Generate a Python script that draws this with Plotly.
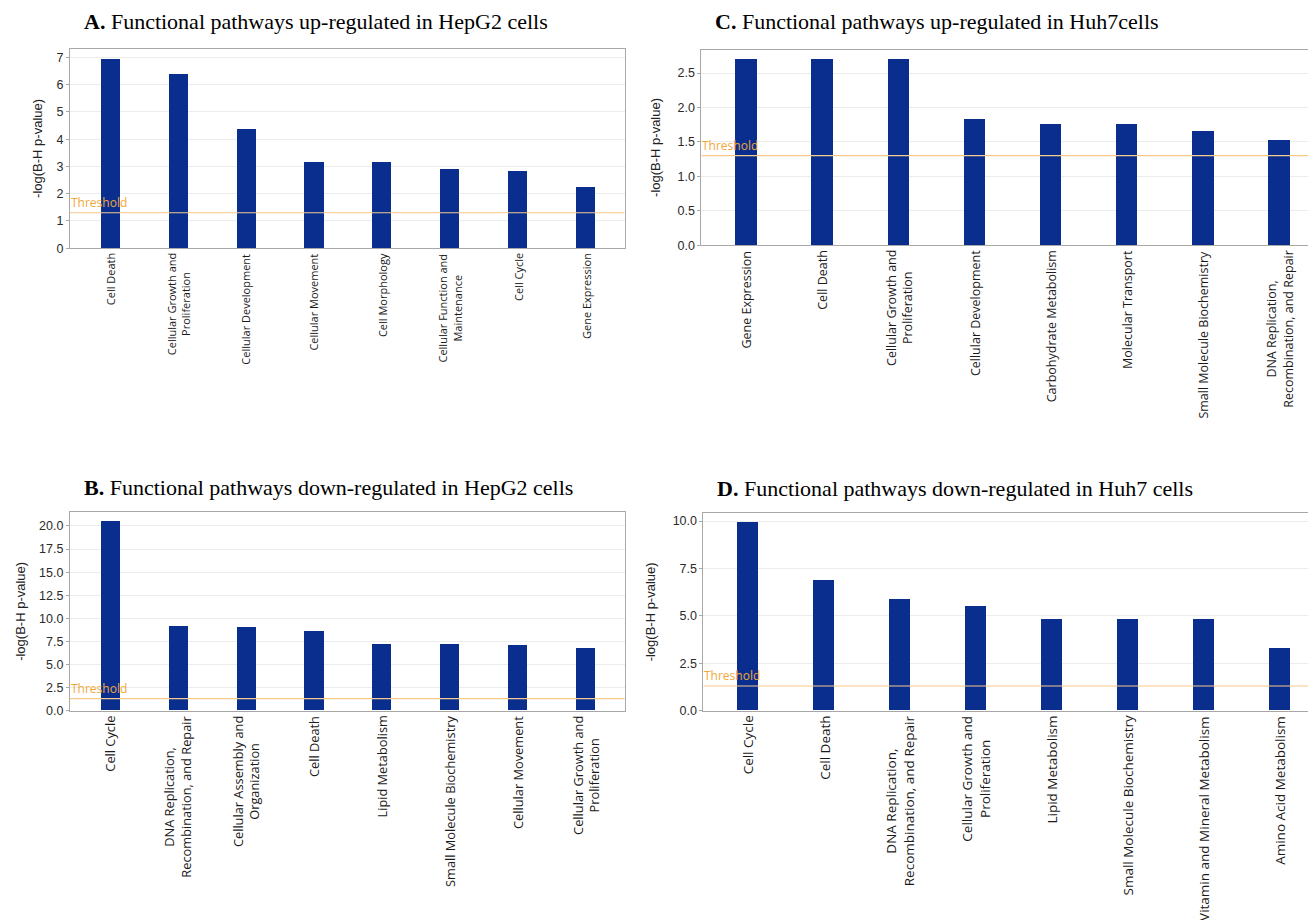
import plotly.graph_objects as go

W, H = 1316, 920

# ---------------- data ----------------
a_cats = ["Cell Death", "Cellular Growth and<br>Proliferation", "Cellular Development",
          "Cellular Movement", "Cell Morphology", "Cellular Function and<br>Maintenance",
          "Cell Cycle", "Gene Expression"]
a_vals = [6.96, 6.39, 4.39, 3.18, 3.17, 2.92, 2.85, 2.24]

c_cats = ["Gene Expression", "Cell Death", "Cellular Growth and<br>Proliferation",
          "Cellular Development", "Carbohydrate Metabolism", "Molecular Transport",
          "Small Molecule Biochemistry", "DNA Replication,<br>Recombination, and Repair"]
c_vals = [2.71, 2.71, 2.71, 1.84, 1.76, 1.76, 1.67, 1.53]

b_cats = ["Cell Cycle", "DNA Replication,<br>Recombination, and Repair",
          "Cellular Assembly and<br>Organization", "Cell Death", "Lipid Metabolism",
          "Small Molecule Biochemistry", "Cellular Movement",
          "Cellular Growth and<br>Proliferation"]
b_vals = [20.5, 9.17, 9.06, 8.63, 7.16, 7.16, 7.09, 6.73]

d_cats = ["Cell Cycle", "Cell Death", "DNA Replication,<br>Recombination, and Repair",
          "Cellular Growth and<br>Proliferation", "Lipid Metabolism",
          "Small Molecule Biochemistry", "Vitamin and Mineral Metabolism",
          "Amino Acid Metabolism"]
d_vals = [9.95, 6.90, 5.86, 5.53, 4.82, 4.82, 4.82, 3.32]

threshold = 1.3

titles = ["<b>A.</b> Functional pathways up-regulated in HepG2 cells",
          "<b>C.</b> Functional pathways up-regulated in Huh7cells",
          "<b>B.</b> Functional pathways down-regulated in HepG2 cells",
          "<b>D.</b> Functional pathways down-regulated in Huh7 cells"]
y_title = "-log(B-H p-value)"

# ---------------- layout (pixel boxes) ----------------
# cats, vals, box(l, r, t, b), yrange, dtick, tickformat, title pos, label size, standoff
panels = [
    (a_cats, a_vals, (62, 617, 41, 242), [0, 7.32], 1, "d", (74, 14), 11, 10),
    (c_cats, c_vals, (694, 1316, 42, 239), [0, 2.84], 0.5, ".1f", (706, 14), 12.5, 14),
    (b_cats, b_vals, (62, 617, 508, 708), [0, 21.5], 2.5, ".1f", (74, 483), 12.8, 10),
    (d_cats, d_vals, (696, 1316, 509, 708), [0, 10.42], 2.5, ".1f", (708, 484), 13.5, 14),
]

BAR = "#0a2e8e"
GRID = "#ececec"
FRAME = "#a8a8a8"
THR_LINE = "#f6c98c"
THR_TEXT = "#f2a83a"
TICKFONT = dict(family="Liberation Sans, Arial, sans-serif", size=12.5, color="#2a2a2a")

fig = go.Figure()
layout = dict(width=W, height=H, margin=dict(l=0, r=0, t=0, b=0),
              paper_bgcolor="white", plot_bgcolor="white", showlegend=False,
              bargap=0)
annotations = []
shapes = []

for i, (cats, vals, (l, r, t, b), yr, dt, tf, (tx, ty), lsize, stand) in enumerate(panels):
    n = i + 1
    xa = "x" if n == 1 else f"x{n}"
    ya = "y" if n == 1 else f"y{n}"
    fig.add_trace(go.Bar(x=cats, y=vals, xaxis=xa, yaxis=ya, width=0.28,
                         marker=dict(color=BAR, line=dict(width=0)),
                         hoverinfo="x+y"))
    xkey = "xaxis" if n == 1 else f"xaxis{n}"
    ykey = "yaxis" if n == 1 else f"yaxis{n}"
    layout[xkey] = dict(domain=[l / W, r / W], anchor=ya, type="category",
                        categoryorder="array", categoryarray=cats,
                        range=[-0.59, 7.57], showticklabels=False,
                        showgrid=False, showline=True, linecolor=FRAME, linewidth=1,
                        mirror=True, ticks="", zeroline=False, fixedrange=True)
    layout[ykey] = dict(domain=[1 - b / H, 1 - t / H], anchor=xa, range=yr,
                        dtick=dt, tick0=0, tickformat=tf, tickfont=TICKFONT,
                        showgrid=True, gridcolor=GRID, gridwidth=1,
                        showline=True, linecolor=FRAME, linewidth=1, mirror=True,
                        ticks="outside", ticklen=3, tickcolor=FRAME,
                        zeroline=False,
                        title=dict(text=y_title, standoff=stand,
                                   font=dict(family="Liberation Sans, Arial, sans-serif",
                                             size=13, color="#222222")))
    catfont = dict(family="Open Sans, sans-serif", size=lsize, color="#1a1a1a")
    # category labels, rotated, lines centred like the reference
    for c in cats:
        annotations.append(dict(xref=xa, yref=f"{ya} domain", x=c, y=0,
                                xanchor="center", yanchor="top", yshift=-3,
                                text=c, textangle=-90, align="center",
                                showarrow=False, font=catfont))
    # threshold line
    shapes.append(dict(type="line", xref=f"{xa} domain", yref=ya, x0=0, x1=1,
                       y0=threshold, y1=threshold,
                       line=dict(color=THR_LINE, width=1.2)))
    annotations.append(dict(xref=f"{xa} domain", yref=ya, x=0, y=threshold,
                            xanchor="left", yanchor="bottom", text="Threshold",
                            showarrow=False, xshift=-1,
                            font=dict(family="Open Sans, sans-serif", size=12,
                                      color=THR_TEXT)))
    # panel title
    annotations.append(dict(xref="paper", yref="paper", x=tx / W, y=1 - ty / H,
                            xanchor="left", yanchor="middle", text=titles[i],
                            showarrow=False,
                            font=dict(family="Liberation Serif, Times New Roman, serif",
                                      size=22, color="#000000")))

layout["annotations"] = annotations
layout["shapes"] = shapes
fig.update_layout(**layout)
fig.write_html("out.html")
